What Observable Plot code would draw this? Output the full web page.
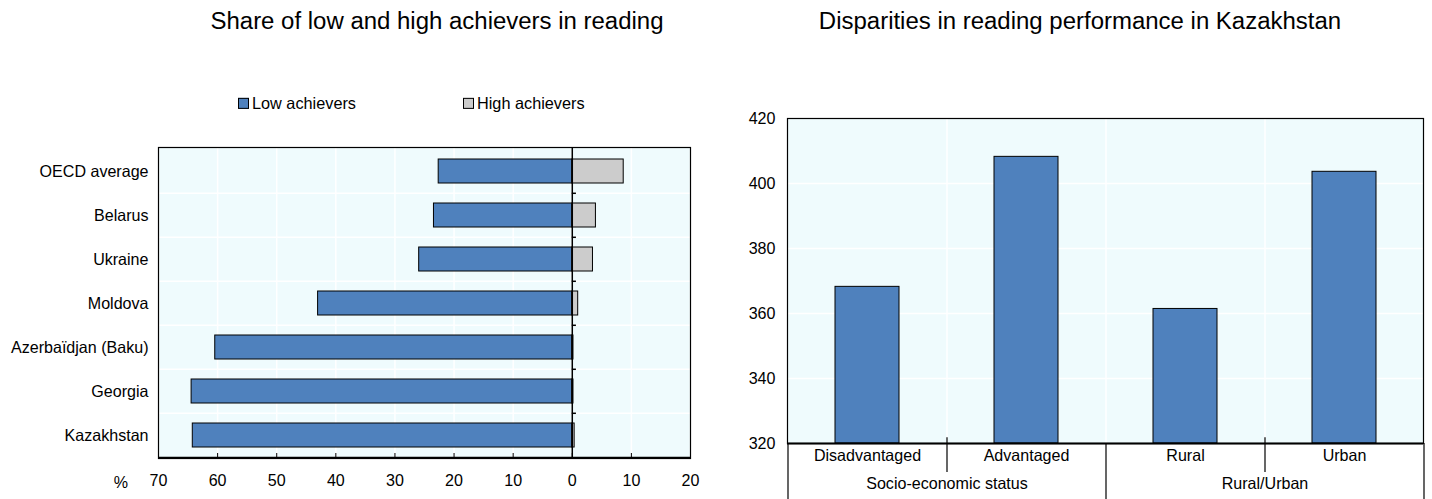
<!DOCTYPE html>
<html>
<head>
<meta charset="utf-8">
<script src="https://cdn.jsdelivr.net/npm/d3@7"></script>
<script src="https://cdn.jsdelivr.net/npm/@observablehq/plot@0.6"></script>
<style>
  html, body { margin: 0; padding: 0; background: #fff; }
  #root { position: relative; width: 1432px; height: 499px; color: #000; overflow: hidden; }
  .abs { position: absolute; white-space: nowrap; line-height: 1; }
  .title { transform: translate(-50%, -50%); }
  .leg { transform: translateY(-50%); display: flex; align-items: center; }
  .sw { width: 9px; height: 9px; border: 1px solid #000; margin-right: 3px; flex: none; }
</style>
</head>
<body>
<div id="root"></div>
<script>
// ---- Left panel data ----
const countries = ["OECD average", "Belarus", "Ukraine", "Moldova", "Azerbaïdjan (Baku)", "Georgia", "Kazakhstan"];
const lowAchievers = [22.6, 23.4, 25.9, 43.0, 60.4, 64.4, 64.2];
const highAchievers = [8.7, 4.0, 3.5, 1.0, 0.2, 0.2, 0.4];
const xTicks = [-70, -60, -50, -40, -30, -20, -10, 0, 10, 20];
const seriesNames = ["Low achievers", "High achievers"];

// ---- Right panel data ----
const categories = ["Disadvantaged", "Advantaged", "Rural", "Urban"];
const scores = [368.2, 408.2, 361.4, 403.6];
const groups = ["Socio-economic status", "Rural/Urban"];
const groupStart = ["Disadvantaged", "Rural"];
const yTicks = [320, 340, 360, 380, 400, 420];

const titles = ["Share of low and high achievers in reading", "Disparities in reading performance in Kazakhstan"];

const BLUE = "#4F81BD", GREY = "#CCCCCC", BG = "#EFFBFD";

// ---- font choice: prefer a narrow Arial-like face, fit sizes to the reference widths ----
const ctx = document.createElement("canvas").getContext("2d");
function w(font, text) { ctx.font = font; return ctx.measureText(text).width; }
const probe = "OECD average Azerbaïdjan";
const narrowOk = w('40px "Liberation Sans Narrow", monospace', probe) !== w("40px monospace", probe);
const FAM = narrowOk ? "Liberation Sans Narrow" : "Liberation Sans";
const FONT = `"${FAM}", "Liberation Sans", Arial, sans-serif`;
function fit(text, target) { return +(100 * target / w(`100px "${FAM}"`, text)).toFixed(2); }
const tickSize = fit("OECD average", 109);
const legSize = fit("Low achievers", 104);
const titleSize = fit(titles[0], 453);

const root = document.getElementById("root");
root.style.fontFamily = FONT;
root.innerHTML = `
  <div class="abs title" style="left:437px;top:21px;font-size:${titleSize}px">${titles[0]}</div>
  <div class="abs title" style="left:1080px;top:21px;font-size:${titleSize}px">${titles[1]}</div>
  <div class="abs leg" style="left:238px;top:103px;font-size:${legSize}px"><span class="sw" style="background:${BLUE}"></span>${seriesNames[0]}</div>
  <div class="abs leg" style="left:463px;top:103px;font-size:${legSize}px"><span class="sw" style="background:${GREY}"></span>${seriesNames[1]}</div>
  <div class="abs" style="left:121px;top:482px;transform:translate(-50%,-50%);font-size:${tickSize}px">%</div>
  <div id="left" class="abs" style="left:0;top:140px;"></div>
  <div id="right" class="abs" style="left:720px;top:100px;"></div>`;

const font = {fontSize: tickSize + "px", fontFamily: FONT, color: "#000", background: "transparent", overflow: "visible"};

const lowData = countries.map((c, i) => ({country: c, value: lowAchievers[i]}));
const highData = countries.map((c, i) => ({country: c, value: highAchievers[i]}));

// Left plot geometry
const LW = 720, LH = 359, LML = 158, LMR = 30, LMT = 7, LMB = 41;
const lStep = (LH - LMT - LMB) / countries.length;

const left = Plot.plot({
  width: LW, height: LH,
  marginLeft: LML, marginRight: LMR, marginTop: LMT, marginBottom: LMB,
  style: font,
  x: {domain: [-70, 20], ticks: xTicks, tickFormat: d => Math.abs(d)},
  y: {domain: countries, paddingInner: 0.46, paddingOuter: 0.23, label: null},
  marks: [
    Plot.frame({fill: BG, stroke: null}),
    Plot.gridX(xTicks, {stroke: "white", strokeOpacity: 1, strokeWidth: 1.5}),
    Plot.ruleY(countries.slice(1), {y: d => d, dy: -lStep / 2, stroke: "white", strokeOpacity: 1, strokeWidth: 1.5}),
    Plot.barX(lowData, {y: "country", x1: d => -d.value, x2: 0, fill: BLUE, stroke: "black", strokeWidth: 1}),
    Plot.barX(highData, {y: "country", x1: 0, x2: "value", fill: GREY, stroke: "black", strokeWidth: 1}),
    Plot.ruleX([0], {stroke: "black", strokeWidth: 1.5}),
    Plot.ruleY(countries.slice(1), {y: d => d, dy: -lStep / 2, x1: 0, x2: 0.7, stroke: "black", strokeWidth: 1.5}),
    Plot.axisX({ticks: xTicks, tickFormat: d => Math.abs(d), tickSize: -5, tickPadding: 21, label: null, fontSize: tickSize}),
    Plot.axisY({tickSize: 0, tickPadding: 10, label: null, fontSize: tickSize}),
    Plot.frame({stroke: "black", strokeWidth: 1.2}),
    Plot.ruleY([countries[countries.length - 1]], {y: d => d, dy: lStep / 2, stroke: "black", strokeWidth: 2})
  ]
});
document.getElementById("left").appendChild(left);

// Right plot geometry
const RW = 712, RH = 399, RML = 67, RMR = 9, RMT = 18, RMB = 56;
const rStep = (RW - RML - RMR) / categories.length;
const pxPerUnit = (RH - RMT - RMB) / 100;
const below = px => 320 - px / pxPerUnit;

const barData = categories.map((c, i) => ({cat: c, value: scores[i]}));
const groupData = groups.map((g, i) => ({label: g, start: groupStart[i]}));

const right = Plot.plot({
  width: RW, height: RH,
  marginLeft: RML, marginRight: RMR, marginTop: RMT, marginBottom: RMB,
  style: font,
  x: {domain: categories, paddingInner: 0.6, paddingOuter: 0.3, axis: null},
  y: {domain: [320, 420], ticks: yTicks, label: null},
  marks: [
    Plot.frame({fill: BG, stroke: null}),
    Plot.gridY(yTicks.slice(1, -1), {stroke: "white", strokeOpacity: 1, strokeWidth: 1.5}),
    Plot.ruleX(categories.slice(1), {x: d => d, dx: -rStep / 2, stroke: "white", strokeOpacity: 1, strokeWidth: 1.5}),
    Plot.barY(barData, {x: "cat", y1: 320, y2: "value", fill: BLUE, stroke: "black", strokeWidth: 1}),
    Plot.axisY({ticks: yTicks, tickSize: 0, tickPadding: 12, label: null, fontSize: tickSize}),
    Plot.frame({stroke: "black", strokeWidth: 1.2}),
    Plot.ruleY([320], {stroke: "black", strokeWidth: 2}),
    // category labels
    Plot.text(categories, {x: d => d, frameAnchor: "bottom", dy: 17, fontSize: tickSize, fill: "black"}),
    // group labels
    Plot.text(groupData, {x: "start", dx: rStep / 2, text: "label", frameAnchor: "bottom", dy: 45, fontSize: tickSize, fill: "black"}),
    // short separators within groups
    Plot.ruleX(["Advantaged", "Urban"], {x: d => d, dx: -rStep / 2, y1: 321.8, y2: below(29), stroke: "black", strokeWidth: 1.2}),
    // long separators between groups
    Plot.ruleX(["Disadvantaged", "Rural"], {x: d => d, dx: -rStep / 2, y1: 320, y2: below(60), stroke: "black", strokeWidth: 1.2}),
    Plot.ruleX(["Urban"], {x: d => d, dx: rStep / 2, y1: 320, y2: below(60), stroke: "black", strokeWidth: 1.2})
  ]
});
document.getElementById("right").appendChild(right);
</script>
</body>
</html>
